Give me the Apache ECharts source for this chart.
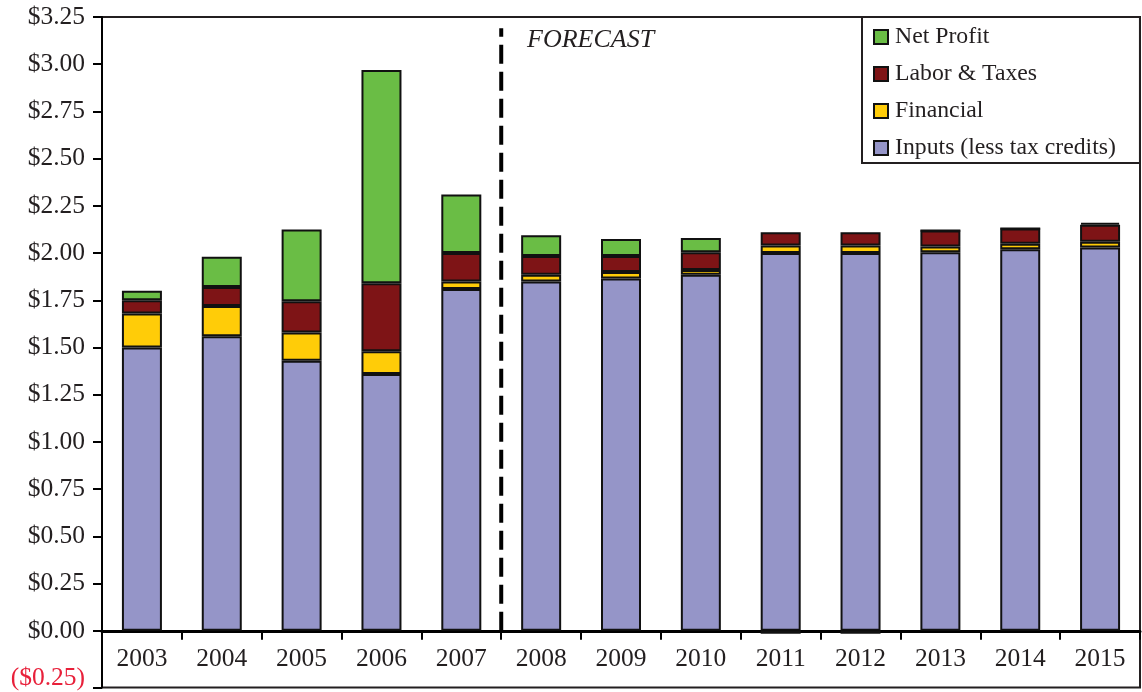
<!DOCTYPE html>
<html>
<head>
<meta charset="utf-8">
<style>
  html, body { margin: 0; padding: 0; background: #fff; }
  #chart { width: 1142px; height: 692px; }
</style>
<script src="https://cdn.jsdelivr.net/npm/echarts@6/dist/echarts.min.js"></script>
</head>
<body>
<div id="chart"></div>
<script>
// Cost breakdown per year, dollars; 2008 onward is forecast.
const years = ['2003', '2004', '2005', '2006', '2007', '2008', '2009', '2010', '2011', '2012', '2013', '2014', '2015'];
const inputs = [1.50, 1.56, 1.43, 1.36, 1.81, 1.85, 1.865, 1.885, 2.00, 2.00, 2.005, 2.02, 2.03];
const financial = [0.18, 0.16, 0.15, 0.12, 0.04, 0.035, 0.035, 0.025, 0.04, 0.04, 0.03, 0.03, 0.03];
const laborTaxes = [0.07, 0.10, 0.165, 0.36, 0.15, 0.10, 0.085, 0.095, 0.07, 0.07, 0.085, 0.08, 0.09];
const netProfit = [0.05, 0.16, 0.38, 1.13, 0.31, 0.11, 0.09, 0.075, -0.015, -0.015, 0, 0, 0.01];
const legendOrder = ['Net Profit', 'Labor & Taxes', 'Financial', 'Inputs (less tax credits)'];
const yLabelValues = [-0.25, 0, 0.25, 0.5, 0.75, 1, 1.25, 1.5, 1.75, 2, 2.25, 2.5, 2.75, 3, 3.25];
const yTickValues = [-0.3, 0, 0.25, 0.5, 0.75, 1, 1.25, 1.5, 1.75, 2, 2.25, 2.5, 2.75, 3, 3.25];
const yMin = -0.3, yMax = 3.25;
const forecastStart = 5;      // boundary index between 2007 and 2008
const forecastLineTop = 3.19; // dollars

const FONT = 'Liberation Serif';
const INK = '#231F20';

function barSeries(name, data, color) {
  return {
    name: name,
    type: 'bar',
    stack: 'cost',
    barWidth: 40,
    data: data,
    itemStyle: { color: color, borderColor: '#111', borderWidth: 2 }
  };
}

const chart = echarts.init(document.getElementById('chart'));
chart.setOption({
  animation: false,
  backgroundColor: '#fff',
  textStyle: { fontFamily: FONT, color: INK },
  grid: {
    left: 102, right: 2, top: 17, bottom: 4.5,
    outerBoundsMode: 'none',
    containLabel: false,
    show: true, borderColor: INK, borderWidth: 2, backgroundColor: 'transparent'
  },
  legend: {
    data: legendOrder,
    orient: 'vertical',
    left: 862, top: 17,
    backgroundColor: '#fff',
    borderColor: INK, borderWidth: 2,
    padding: [8, 24, 3, 11],
    itemWidth: 14, itemHeight: 14, itemGap: 13,
    icon: 'rect',
    textStyle: { fontFamily: FONT, fontSize: 23.75, color: INK, padding: [0, 0, 0, 2] }
  },
  xAxis: [{
    // baseline at $0 with category boundary ticks
    type: 'category',
    data: years,
    axisLine: { onZero: true, lineStyle: { color: '#000', width: 3 } },
    axisTick: { show: true, interval: 0, length: 9, lineStyle: { color: '#000', width: 2 } },
    axisLabel: { show: false },
    splitLine: { show: false }
  }, {
    type: 'value', min: 0, max: years.length, show: false
  }, {
    // year labels sitting in the band between $0 and the bottom edge
    type: 'category',
    data: years,
    position: 'bottom',
    axisLine: { show: false, onZero: false },
    axisTick: { show: false },
    splitLine: { show: false },
    axisLabel: { inside: true, fontFamily: FONT, fontSize: 25.5, color: INK, margin: 15, interval: 0 }
  }],
  yAxis: {
    type: 'value',
    min: yMin, max: yMax,
    axisLine: { show: true, lineStyle: { color: '#000', width: 2 } },
    axisTick: { show: true, length: 9, customValues: yTickValues, lineStyle: { color: '#000', width: 2 } },
    splitLine: { show: false },
    axisLabel: {
      fontFamily: FONT, fontSize: 25.5, margin: 17,
      customValues: yLabelValues,
      color: function (v) { return v < 0 ? '#E8203A' : INK; },
      formatter: function (v) {
        const s = '$' + Math.abs(v).toFixed(2);
        return v < 0 ? '(' + s + ')' : s;
      }
    }
  },
  graphic: [{
    type: 'text',
    left: 527, top: 27,
    style: { text: 'FORECAST', font: 'italic 26px "Liberation Serif"', fill: INK }
  }],
  series: [
    barSeries('Inputs (less tax credits)', inputs, '#9595C8'),
    barSeries('Financial', financial, '#FFCC08'),
    barSeries('Labor & Taxes', laborTaxes, '#7E1416'),
    barSeries('Net Profit', netProfit, '#6ABD45'),
    {
      name: 'forecast-divider',
      type: 'line',
      xAxisIndex: 1,
      data: [[forecastStart, 0], [forecastStart, forecastLineTop]],
      symbol: 'none',
      silent: true,
      z: 5,
      lineStyle: { color: '#000', width: 4, type: [19, 8] }
    }
  ]
});
</script>
</body>
</html>
